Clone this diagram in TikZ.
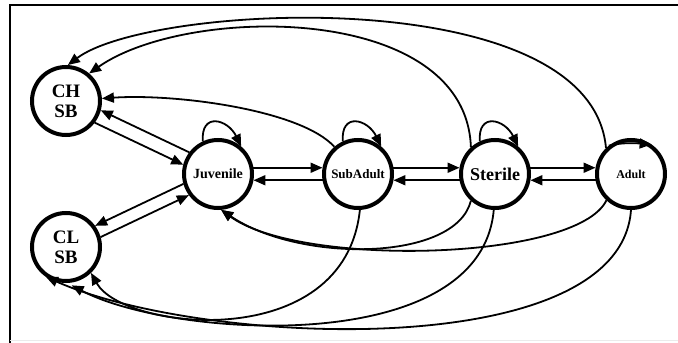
\documentclass[tikz,border=0pt]{standalone}
\usepackage{fontspec}
\setmainfont{Liberation Serif}
\usetikzlibrary{positioning, arrows.meta}

\begin{document}
\begin{tikzpicture}[
    x=1pt, y=1pt,
    >=Triangle,
    % Styles
    stage/.style={
        circle,
        draw=black,
        fill=white,
        line width=4pt,
        minimum size=68pt,
        inner sep=0pt,
        align=center,
        font=\bfseries
    },
    arrow/.style={
        -{Triangle[length=12pt, width=10pt]},
        draw=black,
        line width=1.8pt
    },
    framerule/.style={
        draw=black,
        line width=1.5pt
    }
]

    \useasboundingbox (0,0) rectangle (678,343);

    % ================= FRAME =================
    \draw[framerule] (9,338) -- (678,338);
    \draw[framerule] (10,338) -- (10,0);
    \draw[draw=black!8, line width=1pt] (10,2) -- (678,2);

    % ================= SEED BANKS =================
    \node[stage, font=\bfseries\fontsize{19}{20}\selectfont] (chsb) at (66,242) {CH\\SB};
    \node[stage, font=\bfseries\fontsize{19}{20}\selectfont] (clsb) at (66,96) {CL\\SB};

    % ================= LIFE STAGES =================
    \node[stage, font=\bfseries\fontsize{14}{16}\selectfont] (juvenile) at (218,169) {Juvenile};
    \node[stage, font=\bfseries\fontsize{13}{15}\selectfont, right=68pt of juvenile] (subadult) {SubAdult};
    \node[stage, font=\bfseries\fontsize{18}{20}\selectfont, right=65pt of subadult] (sterile) {Sterile};
    \node[stage, font=\bfseries\fontsize{12}{14}\selectfont, right=64pt of sterile] (adult) {Adult};

    % ================= CONNECTIONS / ARROWS =================
    % Seed banks <-> Juvenile
    \draw[arrow] (chsb.-37) -- (juvenile.165);
    \draw[arrow] (juvenile.143) -- (chsb.-15);
    \draw[arrow] (juvenile.196) -- (clsb.36);
    \draw[arrow] (clsb.16) -- (juvenile.216);

    % Along the chain
    \draw[arrow] (juvenile.10) -- (subadult.170);
    \draw[arrow] (subadult.190) -- (juvenile.-10);
    \draw[arrow] (subadult.10) -- (sterile.170);
    \draw[arrow] (sterile.190) -- (subadult.-10);
    \draw[arrow] (sterile.10) -- (adult.170);
    \draw[arrow] (adult.190) -- (sterile.-10);

    % Staying in place
    \draw[arrow] (juvenile.115) .. controls +(94:30) and +(116:30) .. (juvenile.50);
    \draw[arrow] (subadult.115) .. controls +(94:30) and +(116:30) .. (subadult.50);
    \draw[arrow] (sterile.115) .. controls +(94:30) and +(116:30) .. (sterile.50);
    \draw[arrow] (adult.128) .. controls +(15:14) and +(175:12) .. (adult.55);

    % Back to CH SB (over the top)
    \draw[arrow] (subadult.131) .. controls +(132:50) and +(4:73) .. (chsb.4);
    \draw[arrow] (sterile.132) .. controls +(92:145) and +(35:120) .. (chsb.50);
    \draw[arrow] (adult.134) .. controls +(95:168) and +(37:103) .. (chsb.87);

    % Back to Juvenile
    \draw[arrow] (sterile.-132) .. controls +(-104:63) and +(-34:95) .. (juvenile.-85);
    \draw[arrow] (adult.-133) .. controls +(-116:68) and +(-36:98) .. (juvenile.-85);

    % Back to CL SB (under the bottom)
    \draw[arrow] (subadult.-87) .. controls +(-96:146) and +(-61:66) .. (clsb.-46);
    \draw[arrow, shorten >=5pt] (sterile.-92) .. controls +(-95:150) and +(-28:116) .. (clsb.-88);
    \draw[arrow] (adult.-90) .. controls +(-94:155) and +(-24:170) .. (clsb.-124);

\end{tikzpicture}
\end{document}
